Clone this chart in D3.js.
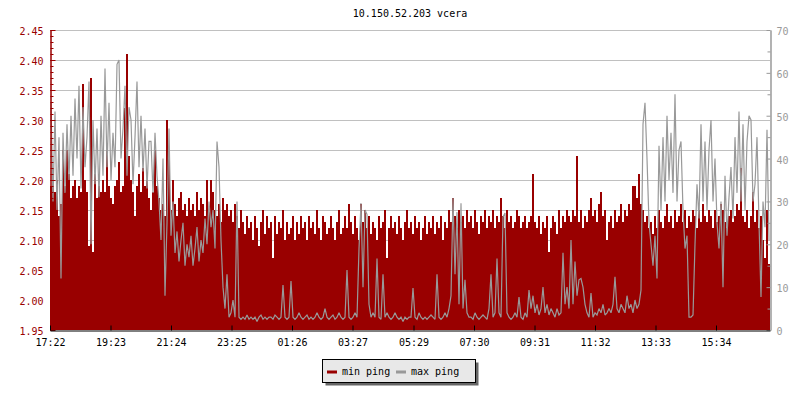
<!DOCTYPE html>
<html><head><meta charset="utf-8">
<script src="https://cdn.jsdelivr.net/npm/d3@7"></script>
<style>
body{margin:0;background:#fff}
text{font-family:"DejaVu Sans Mono",monospace;font-size:10px}
</style>
</head><body>
<svg id="c" width="800" height="400"></svg>
<script>
const chartTitle = "10.150.52.203 vcera";
const seriesNames = ["min ping", "max ping"];
const startTime = "17:22";
const stepMinutes = 4;
const totalMinutes = 1440;

const minPing = [
2.19,2.22,2.18,2.20,2.14,2.16,2.25,2.19,2.25,2.21,
2.17,2.19,2.20,2.17,2.19,2.18,2.36,2.20,2.18,2.09,
2.37,2.08,2.21,2.17,2.19,2.18,2.20,2.18,2.25,2.19,
2.17,2.16,2.19,2.20,2.23,2.18,2.19,2.32,2.41,2.24,
2.20,2.18,2.14,2.19,2.21,2.18,2.22,2.19,2.20,2.17,
2.15,2.18,2.25,2.19,2.17,2.15,2.16,2.14,2.30,2.25,
2.15,2.20,2.16,2.14,2.17,2.18,2.15,2.16,2.14,2.17,
2.15,2.16,2.14,2.18,2.15,2.17,2.16,2.14,2.20,2.15,
2.20,2.18,2.15,2.14,2.16,2.13,2.17,2.15,2.16,2.14,
2.15,2.13,2.16,2.14,2.12,2.15,2.13,2.11,2.14,2.12,
2.13,2.10,2.14,2.12,2.09,2.13,2.15,2.11,2.14,2.12,
2.13,2.07,2.14,2.11,2.13,2.12,2.15,2.10,2.13,2.11,
2.12,2.14,2.10,2.13,2.11,2.14,2.12,2.13,2.10,2.14,
2.12,2.13,2.11,2.15,2.12,2.10,2.14,2.13,2.11,2.12,
2.14,2.12,2.10,2.13,2.15,2.11,2.12,2.14,2.12,2.16,
2.13,2.11,2.14,2.12,2.10,2.16,2.13,2.15,2.12,2.14,
2.11,2.13,2.12,2.10,2.14,2.12,2.13,2.15,2.07,2.12,
2.14,2.12,2.13,2.11,2.14,2.12,2.10,2.13,2.15,2.12,
2.13,2.11,2.14,2.12,2.13,2.10,2.12,2.14,2.11,2.13,
2.12,2.14,2.11,2.13,2.12,2.14,2.10,2.13,2.12,2.15,
2.13,2.17,2.14,2.12,2.15,2.13,2.14,2.12,2.15,2.13,
2.14,2.12,2.15,2.13,2.11,2.14,2.13,2.15,2.12,2.14,
2.13,2.15,2.12,2.14,2.13,2.17,2.14,2.12,2.15,2.13,
2.14,2.12,2.13,2.15,2.14,2.12,2.13,2.14,2.12,2.13,
2.14,2.21,2.13,2.12,2.14,2.11,2.13,2.12,2.14,2.08,
2.12,2.14,2.13,2.11,2.15,2.12,2.14,2.13,2.15,2.14,
2.13,2.15,2.14,2.24,2.13,2.15,2.12,2.14,2.13,2.15,
2.17,2.14,2.15,2.13,2.16,2.18,2.14,2.15,2.10,2.13,
2.14,2.12,2.15,2.13,2.14,2.16,2.13,2.15,2.14,2.16,
2.15,2.19,2.19,2.17,2.21,2.16,2.15,2.13,2.14,2.12,
2.13,2.11,2.14,2.12,2.15,2.13,2.12,2.14,2.16,2.13,
2.14,2.12,2.15,2.13,2.14,2.16,2.13,2.15,2.12,2.14,
2.13,2.15,2.14,2.12,2.15,2.13,2.16,2.14,2.13,2.15,
2.14,2.12,2.15,2.13,2.14,2.16,2.15,2.13,2.12,2.14,
2.15,2.13,2.14,2.16,2.15,2.22,2.14,2.13,2.15,2.12,
2.14,2.18,2.13,2.15,2.12,2.14,2.10,2.07,2.15,2.06
];

const maxPing = [
53,30,51,28,45,12,46,32,48,35,
50,36,54,40,57,33,52,38,45,58,
20,49,34,47,31,50,36,61,38,53,
35,46,38,62,63,40,47,57,36,52,
49,34,45,58,38,50,37,47,33,44,
44,32,46,36,30,21,40,8,25,47,
22,30,18,23,16,21,25,15,20,17,
22,15,19,24,16,21,18,26,20,30,
24,28,19,44,38,21,10,5,13,3,
4,7,3,30,3,2.5,3,2.5,3.5,2.5,
3,2.5,3,2,3,3.5,2.5,3,2.5,3,
3,2.5,3.5,3,2.5,3,10.5,3,2.5,3,
11.4,3,2.5,3,4,3,2.5,3,3.5,2.5,
3,2.5,3,4,3,2.5,3,5,3,2.5,
3,3.5,2.5,3,4,3,2.5,3,14,3,
2.5,3,4,3,19,29.6,10,28,27,6,
3,4,3,16.7,3,2.5,13,3,4,3,
2.5,3,4,3,2.5,3,2,3,2.5,3,
3,9.8,3,2.5,4,3,2.5,3,2.5,3,
3.5,3,2.5,13,3,2.5,3,4,3,5,
8,30.8,13,27.5,6,29.6,5,11.7,4,3,
3,2.5,4,3,2.5,3,3.5,3,2.5,5,
13,3,4,16.7,4,3,26.4,27.3,4,3,
2.5,3,4,3,7.7,3,2.5,4,3,9.3,
5,8,4,6,3.5,5,10,4,6,3.5,
5,4,3,5,3.5,4,18,6,10,5,
21,6,16,8,11.7,12,10,6,4,3,
8.6,3,4,3.5,5,4,6,3.5,4,5,
4,6,12.4,5,4,6,5,4,8,5,
6,4,7,5,6,9.3,48,53,40,25,
20,15,22,12,43,28,45,30,50,35,
46,32,55,30,42,44,28,19,22,3,
3,3.5,20,34,26,48,30,44,28,42,
49,30,40,25,19,30,10,36,22,31,
38,26,45,32,51,30,48,28,44,50,
49,30,34,45,25,7.7,30,24,46.7,21
];

const xTickLabels = ["17:22","19:23","21:24","23:25","01:26","03:27","05:29","07:30","09:31","11:32","13:33","15:34"];
const leftTicks = [1.95,2.00,2.05,2.10,2.15,2.20,2.25,2.30,2.35,2.40,2.45];
const leftMinorTicks = d3.range(195,246).map(v=>v/100);
const rightTicks = [0,10,20,30,40,50,60,70];
const rightMinorTicks = [5,15,25,35,45,55,65];

const RED = "#990000", GRAY = "#999999";
const svg = d3.select("#c");
const L = 50, R = 770, T = 30, B = 330;

function toMin(s){const [h,m]=s.split(":").map(Number);return h*60+m;}
const start = toMin(startTime);
const tickMinutes = xTickLabels.map(s=>{let d=toMin(s)-start; if(d<0) d+=1440; return d;});

const x = d3.scaleLinear().domain([0,totalMinutes]).range([L,R]);
const yL = d3.scaleLinear().domain([1.95,2.45]).range([B,T]);
const yR = d3.scaleLinear().domain([0,70]).range([B,T]);

const minData = minPing.map((v,i)=>({t:i*stepMinutes,v}));
minData.push({t:totalMinutes,v:minPing[minPing.length-1]});
const maxData = maxPing.map((v,i)=>({t:i*stepMinutes+stepMinutes/2,v}));

// title
svg.append("text").attr("x",(L+R)/2).attr("y",17).attr("text-anchor","middle").attr("fill","#000").text(chartTitle);

// grid
svg.append("g").selectAll("line").data(leftTicks.filter(v=>v>1.95)).join("line")
  .attr("x1",L).attr("x2",R).attr("y1",d=>Math.round(yL(d))+0.5).attr("y2",d=>Math.round(yL(d))+0.5)
  .attr("stroke","#c0c0c0").attr("stroke-width",1);

// min area
svg.append("path").datum(minData)
  .attr("d",d3.area().x(d=>x(d.t)).y0(yL(1.95)).y1(d=>yL(d.v)).curve(d3.curveStepAfter))
  .attr("fill",RED).attr("shape-rendering","crispEdges");

// max line
svg.append("path").datum(maxData)
  .attr("d",d3.line().x(d=>x(d.t)).y(d=>yR(d.v)))
  .attr("fill","none").attr("stroke",GRAY).attr("stroke-width",1.2).attr("stroke-linejoin","miter").attr("stroke-miterlimit",2);

// left axis
const gl = svg.append("g").attr("transform",`translate(${L+0.5},0)`)
  .call(d3.axisLeft(yL).tickValues(leftTicks).tickFormat(d3.format(".2f")).tickSize(-5).tickSizeOuter(0).tickPadding(7));
gl.selectAll("path,line").attr("stroke",RED);
gl.selectAll("text").attr("fill",RED).attr("dy","0.45em").style("font-size","10px").style("font-family",'"DejaVu Sans Mono",monospace');
const glm = svg.append("g").attr("transform",`translate(${L+0.5},0)`)
  .call(d3.axisLeft(yL).tickValues(leftMinorTicks).tickFormat("").tickSize(-3).tickSizeOuter(0));
glm.selectAll("path,line").attr("stroke",RED);

// right axis
const gr = svg.append("g").attr("transform",`translate(${R+0.5},0)`)
  .call(d3.axisRight(yR).tickValues(rightTicks).tickSize(-4).tickSizeOuter(0).tickPadding(6));
gr.selectAll("path,line").attr("stroke",GRAY);
gr.selectAll("text").attr("fill",GRAY).attr("dy","0.45em").style("font-size","10px").style("font-family",'"DejaVu Sans Mono",monospace');
const grm = svg.append("g").attr("transform",`translate(${R+0.5},0)`)
  .call(d3.axisRight(yR).tickValues(rightMinorTicks).tickFormat("").tickSize(-3).tickSizeOuter(0));
grm.selectAll("path,line").attr("stroke",GRAY);

// bottom axis
const gb = svg.append("g").attr("transform",`translate(0,${B+0.5})`)
  .call(d3.axisBottom(x).tickValues(tickMinutes).tickFormat((d,i)=>xTickLabels[i]).tickSize(-5).tickSizeOuter(0).tickPadding(8));
gb.selectAll("path,line").attr("stroke","#000");
gb.selectAll("text").attr("fill","#000").style("font-size","10px").style("font-family",'"DejaVu Sans Mono",monospace');

// legend
const lg = svg.append("g");
lg.append("rect").attr("x",325.5).attr("y",362.5).attr("width",153).attr("height",23).attr("fill","#666");
lg.append("rect").attr("x",322.5).attr("y",359.5).attr("width",153).attr("height",23).attr("fill","#e8e8e8").attr("stroke","#000");
const items = [{name:seriesNames[0],color:RED,x:327},{name:seriesNames[1],color:GRAY,x:396}];
items.forEach(it=>{
  lg.append("line").attr("x1",it.x).attr("x2",it.x+10).attr("y1",372).attr("y2",372).attr("stroke",it.color).attr("stroke-width",3);
  lg.append("text").attr("x",it.x+15).attr("y",375).attr("fill","#000").text(it.name);
});
</script>
</body></html>
